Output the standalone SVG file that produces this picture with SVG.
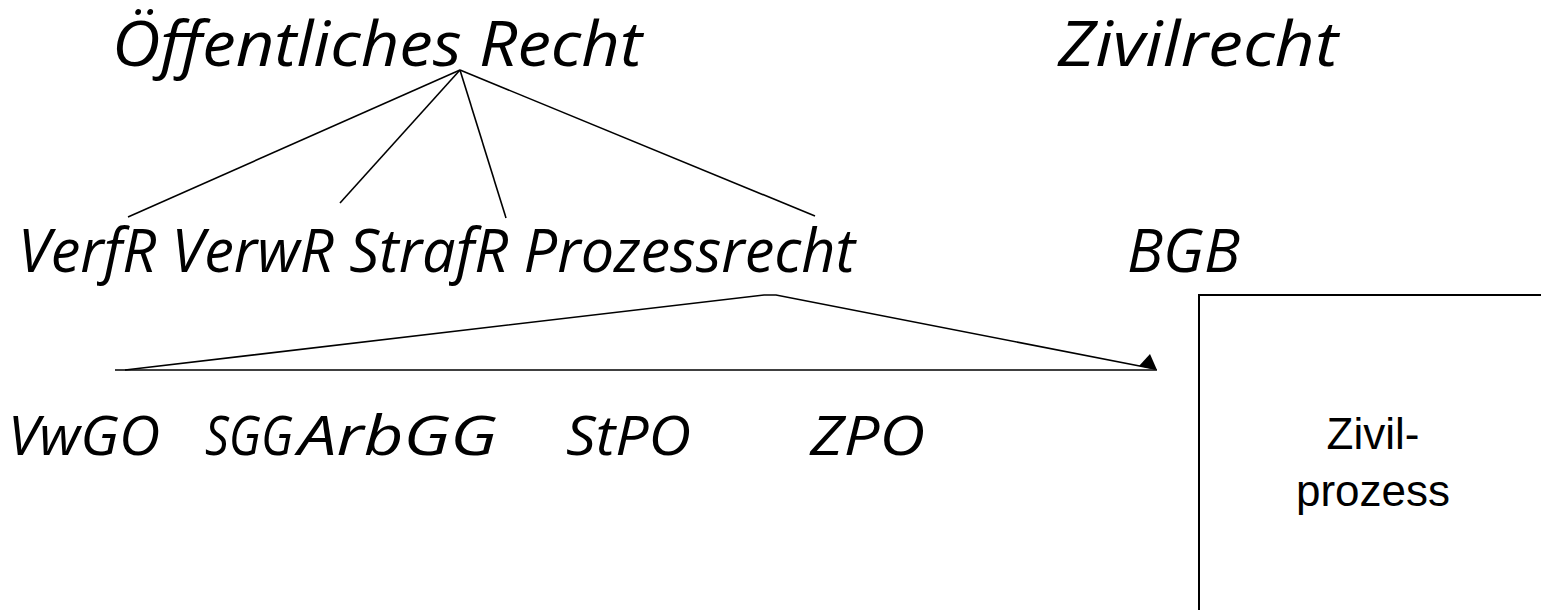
<svg xmlns="http://www.w3.org/2000/svg" width="1541" height="610" viewBox="0 0 1541 610">
<style>
.it{font-family:"Open Sans","Noto Sans",sans-serif;font-style:italic;fill:#000}
.t1{font-size:63px}
.t2{font-size:60px}
.t3{font-size:54px}
.ln{stroke:#000;stroke-width:1.6;fill:none}
.box{stroke:#000;stroke-width:2;fill:#fff}
.ar{font-family:"Liberation Sans",Arial,sans-serif;font-size:44px;fill:#000}
</style>
<rect width="1541" height="610" fill="#fff"/>
<g id="connectors">
<line class="ln" x1="460" y1="70" x2="128" y2="217"/>
<line class="ln" x1="460" y1="70" x2="340" y2="203"/>
<line class="ln" x1="460" y1="70" x2="506" y2="218"/>
<line class="ln" x1="460" y1="70" x2="815" y2="216"/>
<polyline class="ln" points="125,370 764,295 776,295 1155,369"/>
<line class="ln" x1="115" y1="370" x2="1157" y2="370"/>
<polygon points="1139,366 1150,354 1157,370" fill="#000"/>
</g>
<g id="node-oeffentliches-recht"><text class="it t1" x="112" y="66" textLength="530" lengthAdjust="spacingAndGlyphs">Öffentliches Recht</text></g>
<g id="node-zivilrecht"><text class="it t1" x="1058" y="66" textLength="280" lengthAdjust="spacingAndGlyphs">Zivilrecht</text></g>
<g id="node-oeffr-sub"><text class="it t2" x="18" y="272" textLength="837" lengthAdjust="spacingAndGlyphs">VerfR VerwR StrafR Prozessrecht</text></g>
<g id="node-bgb"><text class="it t2" x="1127" y="272" textLength="113" lengthAdjust="spacingAndGlyphs">BGB</text></g>
<g id="node-vwgo"><text class="it t3" x="8" y="455" textLength="152" lengthAdjust="spacingAndGlyphs">VwGO</text></g>
<g id="node-sgg"><text class="it t3" x="205" y="455" textLength="88" lengthAdjust="spacingAndGlyphs">SGG</text></g>
<g id="node-arbgg"><text class="it t3" x="298" y="455" textLength="199" lengthAdjust="spacingAndGlyphs">ArbGG</text></g>
<g id="node-stpo"><text class="it t3" x="566" y="455" textLength="125" lengthAdjust="spacingAndGlyphs">StPO</text></g>
<g id="node-zpo"><text class="it t3" x="810" y="455" textLength="115" lengthAdjust="spacingAndGlyphs">ZPO</text></g>
<g id="node-zivilprozess">
<rect class="box" x="1199" y="295" width="360" height="340"/>
<text class="ar" x="1373" y="449" text-anchor="middle">Zivil-</text>
<text class="ar" x="1373" y="506" text-anchor="middle">prozess</text>
</g>
</svg>
